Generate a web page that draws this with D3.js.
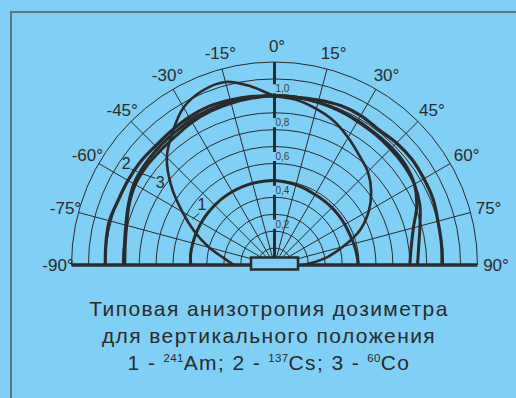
<!DOCTYPE html>
<html>
<head>
<meta charset="utf-8">
<script src="https://cdn.jsdelivr.net/npm/d3@7"></script>
<style>
  html, body { margin: 0; padding: 0; background: #80cff5; }
  svg { display: block; font-family: "Liberation Sans", Arial, Helvetica, sans-serif; }
</style>
</head>
<body>
<svg id="chart" width="516" height="398"></svg>
<script>
// Angle of incidence, degrees (0 = vertical, negative = left)
const angles = [-90, -82.5, -75, -67.5, -60, -52.5, -45, -37.5, -30, -22.5, -15, -7.5,
                0, 7.5, 15, 22.5, 30, 37.5, 45, 52.5, 60, 67.5, 75, 82.5, 90];

// Relative sensitivity for each angle
const curve1 = [0.24, 0.30, 0.40, 0.51, 0.63, 0.77, 0.90, 0.99, 1.075, 1.115, 1.12, 1.065,
                1.0, 0.985, 0.955, 0.92, 0.87, 0.82, 0.78, 0.72, 0.645, 0.55, 0.42, 0.30, 0.17];
const curve2 = [1.0, 1.005, 1.01, 1.0, 1.0, 1.0, 0.995, 1.0, 1.01, 1.015, 1.01, 1.005,
                1.0, 1.0, 1.01, 1.02, 1.02, 1.01, 1.02, 1.025, 1.02, 1.015, 1.0, 0.995, 0.99];
const curve3 = [0.89, 0.895, 0.91, 0.935, 0.96, 0.97, 0.975, 0.98, 0.99, 0.995, 1.0, 1.0,
                1.0, 1.0, 0.995, 0.99, 0.98, 0.975, 0.97, 0.965, 0.955, 0.93, 0.89, 0.86, 0.845];
const curve4 = [0.885, 0.89, 0.905, 0.93, 0.95, 0.955, 0.955, 0.96, 0.975, 0.985, 0.99, 0.995,
                1.0, 1.0, 0.995, 0.99, 0.985, 0.98, 0.98, 0.975, 0.955, 0.91, 0.85, 0.815, 0.80];
const curve5 = [0.495, 0.5, 0.5, 0.5, 0.5, 0.5, 0.5, 0.5, 0.5, 0.5, 0.5, 0.5,
                0.5, 0.495, 0.49, 0.485, 0.48, 0.48, 0.48, 0.48, 0.48, 0.48, 0.485, 0.49, 0.495];

// Grid and tick labels
const ringValues = [0.1, 0.2, 0.3, 0.4, 0.5, 0.6, 0.7, 0.8, 0.9, 1.0, 1.1, 1.2];
const spokeAngles = [-75, -60, -45, -30, -15, 15, 30, 45, 60, 75];
const angleTicks = [-90, -75, -60, -45, -30, -15, 0, 15, 30, 45, 60, 75, 90];
const radialTicks = [0.2, 0.4, 0.6, 0.8, 1.0];
const radialTickLabels = ["0,2", "0,4", "0,6", "0,8", "1,0"];

const titleLines = ["Типовая анизотропия дозиметра", "для вертикального положения"];

const ink = "#2b2b2b";
const cx = 274.5, cy = 265;
const rad = d => d * Math.PI / 180;
const r = d3.scaleLinear().domain([0, 1.2]).range([0, 203]);

const svg = d3.select("#chart");

// frame
svg.append("rect")
  .attr("x", 11).attr("y", 12).attr("width", 530).attr("height", 420)
  .attr("fill", "none").attr("stroke", "#64747b").attr("stroke-width", 2);

const g = svg.append("g").attr("transform", `translate(${cx},${cy})`);

// concentric rings
const ringPath = v => {
  const p = d3.path();
  p.arc(0, 0, r(v), Math.PI, 2 * Math.PI);
  return p.toString();
};
g.append("g").selectAll("path").data(ringValues).join("path")
  .attr("d", ringPath)
  .attr("fill", "none").attr("stroke", ink).attr("stroke-width", 1);

// spokes
g.append("g").selectAll("line").data(spokeAngles).join("line")
  .attr("x1", 0).attr("y1", 0)
  .attr("x2", a => r(1.2) * Math.sin(rad(a)))
  .attr("y2", a => -r(1.2) * Math.cos(rad(a)))
  .attr("stroke", ink).attr("stroke-width", 1);

// vertical axis, broken where the tick labels sit
const gaps = radialTicks.map(v => [r(v) + 2.5, r(v) + 11.5]);
const segs = [];
let from = 7;
gaps.forEach(([a, b]) => { segs.push([from, a]); from = b; });
segs.push([from, r(1.2)]);
g.append("g").selectAll("line").data(segs).join("line")
  .attr("x1", 0).attr("x2", 0)
  .attr("y1", d => -d[0]).attr("y2", d => -d[1])
  .attr("stroke", ink).attr("stroke-width", 3);

g.append("g").selectAll("text").data(radialTicks).join("text")
  .attr("x", 1).attr("y", v => -r(v) - 3.5)
  .attr("font-size", 10).attr("fill", "#3c3c3c")
  .text((v, i) => radialTickLabels[i]);

// response curves
const line = d3.lineRadial()
  .angle(d => rad(d[0]))
  .radius(d => r(d[1]))
  .curve(d3.curveCatmullRom);
const series = [
  { values: curve5, width: 3 },
  { values: curve4, width: 3 },
  { values: curve3, width: 3 },
  { values: curve2, width: 3.2 },
  { values: curve1, width: 2.6 }
];
g.append("g").selectAll("path").data(series).join("path")
  .attr("d", s => line(angles.map((a, i) => [a, s.values[i]])))
  .attr("fill", "none").attr("stroke", ink)
  .attr("stroke-width", s => s.width).attr("stroke-linejoin", "round");

// baseline
g.append("line")
  .attr("x1", -r(1.2)).attr("x2", r(1.2)).attr("y1", 0).attr("y2", 0)
  .attr("stroke", ink).attr("stroke-width", 3.5);

// detector body
g.append("rect")
  .attr("x", -23.5).attr("y", -7.5).attr("width", 47).attr("height", 12)
  .attr("fill", "#80cff5").attr("stroke", ink).attr("stroke-width", 2.5);

// angle labels
const pol = (a, v) => [v * Math.sin(rad(a)), -v * Math.cos(rad(a))];
g.append("g").selectAll("text").data(angleTicks).join("text")
  .attr("x", a => pol(a, 219)[0] + 2.5)
  .attr("y", a => pol(a, 219)[1])
  .attr("text-anchor", "middle").attr("dominant-baseline", "central")
  .attr("font-size", 17).attr("fill", ink)
  .text(a => `${a}°`);

// curve numbers with leaders (angle, value)
const notes = [
  { text: "1", at: [-50, 0.56], from: [-55.6, 0.54], to: [-60.8, 0.555] },
  { text: "2", at: [-55.6, 1.063], from: [-56.3, 1.02], to: [-55.7, 0.98] },
  { text: "3", at: [-54.2, 0.834], from: [-54, 0.872], to: [-55.7, 0.967] }
];
const pv = (p) => pol(p[0], r(p[1]));
g.append("g").selectAll("line").data(notes).join("line")
  .attr("x1", d => pv(d.from)[0]).attr("y1", d => pv(d.from)[1])
  .attr("x2", d => pv(d.to)[0]).attr("y2", d => pv(d.to)[1])
  .attr("stroke", ink).attr("stroke-width", 1);
g.append("g").selectAll("text").data(notes).join("text")
  .attr("x", d => pv(d.at)[0]).attr("y", d => pv(d.at)[1])
  .attr("text-anchor", "middle").attr("dominant-baseline", "central")
  .attr("font-size", 16).attr("fill", ink)
  .text(d => d.text);

// caption
const tx = 269;
svg.append("g").selectAll("text").data(titleLines).join("text")
  .attr("x", tx).attr("y", (d, i) => 316 + i * 27)
  .attr("text-anchor", "middle").attr("font-size", 21).attr("letter-spacing", 1.4)
  .attr("fill", ink)
  .text(d => d);

const legendParts = [["1 - ", "241", "Am; "], ["2 - ", "137", "Cs; "], ["3 - ", "60", "Co"]];
const t3 = svg.append("text")
  .attr("x", tx).attr("y", 370)
  .attr("text-anchor", "middle").attr("font-size", 21).attr("letter-spacing", 1.4)
  .attr("fill", ink);
legendParts.forEach(([pre, iso, el]) => {
  t3.append("tspan").text(pre);
  t3.append("tspan").attr("font-size", 11.5).attr("letter-spacing", 0.3).attr("dy", -8).text(iso);
  t3.append("tspan").attr("dy", 8).text(el);
});
</script>
</body>
</html>
